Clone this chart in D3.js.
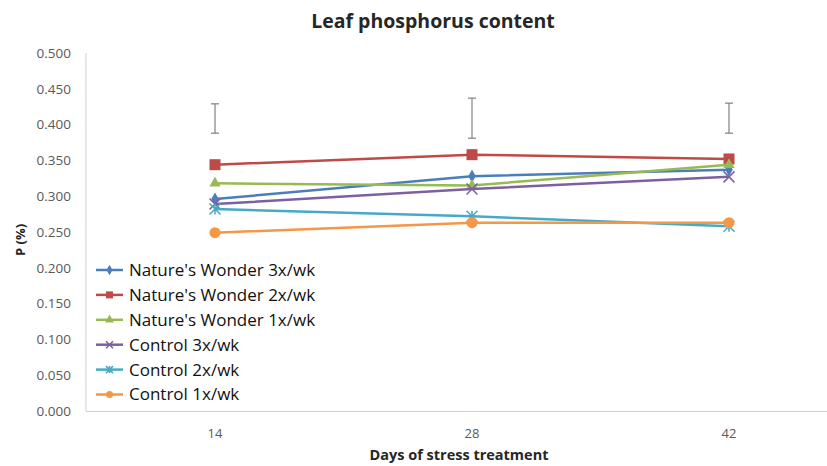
<!DOCTYPE html>
<html><head><meta charset="utf-8">
<script src="https://d3js.org/d3.v7.min.js"></script>
<style>
body{margin:0;background:#fff;}
svg{display:block;font-family:"Open Sans",sans-serif;}
</style></head>
<body>
<script>
// data
var days = ["14", "28", "42"];
var seriesNames = ["Nature's Wonder 3x/wk", "Nature's Wonder 2x/wk", "Nature's Wonder 1x/wk",
                   "Control 3x/wk", "Control 2x/wk", "Control 1x/wk"];
var nw3 = [0.296, 0.328, 0.337];
var nw2 = [0.344, 0.358, 0.352];
var nw1 = [0.318, 0.315, 0.344];
var c3  = [0.289, 0.310, 0.327];
var c2  = [0.282, 0.272, 0.258];
var c1  = [0.249, 0.263, 0.263];
var errLow  = [0.388, 0.381, 0.388];
var errHigh = [0.429, 0.437, 0.430];
var yTicks = [0, 0.05, 0.1, 0.15, 0.2, 0.25, 0.3, 0.35, 0.4, 0.45, 0.5];

var colors = ["#4a7ebb", "#be4b48", "#98b954", "#7d60a0", "#46aac5", "#f79646"];
var shapes = ["diamond", "square", "triangle", "x", "star", "circle"];
var allValues = [nw3, nw2, nw1, c3, c2, c1];

var W = 827, H = 466;
var svg = d3.select("body").append("svg").attr("width", W).attr("height", H);

var x = d3.scalePoint().domain(days).range([215, 729]);
var y = d3.scaleLinear().domain([0, 0.5]).range([411, 53]);

// axis lines
svg.append("line").attr("x1", 86).attr("x2", 86).attr("y1", 53).attr("y2", 411)
  .attr("stroke", "#d0d0d0").attr("stroke-width", 1);
svg.append("line").attr("x1", 86).attr("x2", W).attr("y1", 411.5).attr("y2", 411.5)
  .attr("stroke", "#d0d0d0").attr("stroke-width", 1);

// y tick labels
svg.selectAll(".ytick").data(yTicks).enter().append("text")
  .attr("x", 71).attr("y", function(d){return y(d);}).attr("dy", "0.35em")
  .attr("text-anchor", "end").attr("font-size", "13.5px").attr("fill", "#595959")
  .text(function(d){return d3.format(".3f")(d);});

// x tick labels
svg.selectAll(".xtick").data(days).enter().append("text")
  .attr("x", function(d){return x(d);}).attr("y", 433).attr("dy", "0.35em")
  .attr("text-anchor", "middle").attr("font-size", "13px").attr("fill", "#595959")
  .text(function(d){return d;});

// titles
svg.append("text").attr("x", 433).attr("y", 21).attr("dy", "0.35em")
  .attr("text-anchor", "middle").attr("font-size", "19.5px").attr("font-weight", "bold")
  .attr("fill", "#262626").text("Leaf phosphorus content");
svg.append("text").attr("x", 459).attr("y", 455).attr("dy", "0.35em")
  .attr("text-anchor", "middle").attr("font-size", "14.5px").attr("font-weight", "bold")
  .attr("fill", "#262626").text("Days of stress treatment");
svg.append("text").attr("transform", "translate(20,240) rotate(-90)").attr("dy", "0.35em")
  .attr("text-anchor", "middle").attr("font-size", "13px").attr("font-weight", "bold")
  .attr("fill", "#262626").text("P (%)");

// error bars
var eb = svg.append("g").attr("stroke", "#808080").attr("stroke-width", 1.2);
days.forEach(function(d, i) {
  eb.append("line").attr("x1", x(d)).attr("x2", x(d)).attr("y1", y(errLow[i])).attr("y2", y(errHigh[i]));
  eb.append("line").attr("x1", x(d) - 4).attr("x2", x(d) + 4).attr("y1", y(errLow[i])).attr("y2", y(errLow[i]));
  eb.append("line").attr("x1", x(d) - 4).attr("x2", x(d) + 4).attr("y1", y(errHigh[i])).attr("y2", y(errHigh[i]));
});

function marker(g, shape, cx, cy, color, s) {
  if (shape === "diamond") {
    g.append("path").attr("d", d3.symbol(d3.symbolDiamond, s * 9)()).attr("transform", "translate(" + cx + "," + cy + ")").attr("fill", color);
  } else if (shape === "square") {
    g.append("rect").attr("x", cx - s).attr("y", cy - s).attr("width", 2 * s).attr("height", 2 * s).attr("fill", color);
  } else if (shape === "triangle") {
    g.append("path").attr("d", d3.symbol(d3.symbolTriangle, s * 10)()).attr("transform", "translate(" + cx + "," + cy + ")").attr("fill", color);
  } else if (shape === "x") {
    g.append("path").attr("d", "M" + (cx - s) + "," + (cy - s) + "L" + (cx + s) + "," + (cy + s) + "M" + (cx - s) + "," + (cy + s) + "L" + (cx + s) + "," + (cy - s))
      .attr("stroke", color).attr("stroke-width", 1.5);
  } else if (shape === "star") {
    g.append("path").attr("d", "M" + (cx - s) + "," + (cy - s) + "L" + (cx + s) + "," + (cy + s) + "M" + (cx - s) + "," + (cy + s) + "L" + (cx + s) + "," + (cy - s) + "M" + cx + "," + (cy - s) + "L" + cx + "," + (cy + s))
      .attr("stroke", color).attr("stroke-width", 1.5);
  } else {
    g.append("circle").attr("cx", cx).attr("cy", cy).attr("r", s).attr("fill", color);
  }
}

var line = d3.line().x(function(d, i){return x(days[i]);}).y(function(d){return y(d);});

allValues.forEach(function(vals, k) {
  var g = svg.append("g");
  g.append("path").datum(vals).attr("d", line).attr("fill", "none")
    .attr("stroke", colors[k]).attr("stroke-width", 2.5);
  vals.forEach(function(v, i) {
    marker(g, shapes[k], x(days[i]), y(v), colors[k], 5.5);
  });
});

// legend
var lg = svg.append("g");
seriesNames.forEach(function(name, k) {
  var ly = 270 + k * 24.9;
  lg.append("line").attr("x1", 96).attr("x2", 123).attr("y1", ly).attr("y2", ly)
    .attr("stroke", colors[k]).attr("stroke-width", 2.5);
  marker(lg, shapes[k], 109.5, ly, colors[k], 3.5);
  lg.append("text").attr("x", 129).attr("y", ly).attr("dy", "0.35em")
    .attr("font-size", "17px").attr("fill", "#111").text(name);
});
</script>
</body></html>
